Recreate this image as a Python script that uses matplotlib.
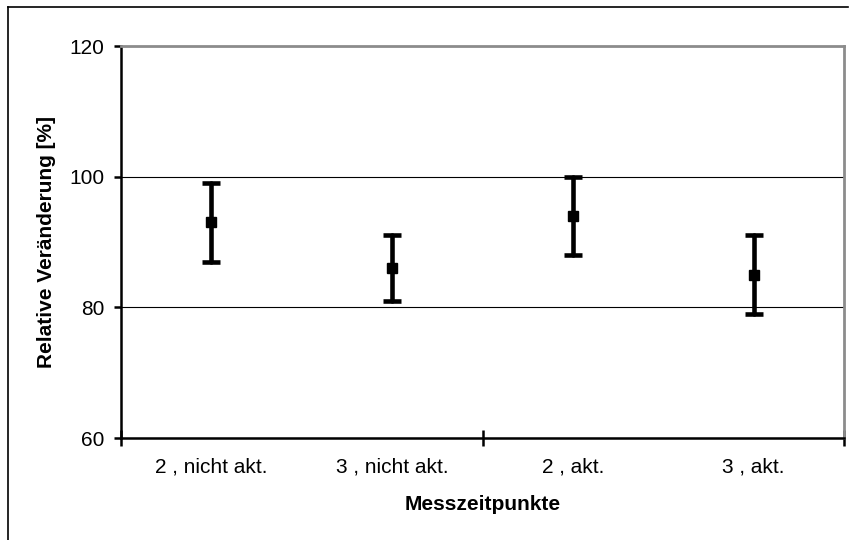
"""Relative change per measurement time with error bars."""
import matplotlib

matplotlib.use("Agg")
import matplotlib.pyplot as plt  # noqa: E402
from matplotlib.lines import Line2D  # noqa: E402

plt.rcParams["font.family"] = ["Liberation Sans", "DejaVu Sans"]

categories = ["2 , nicht akt.", "3 , nicht akt.", "2 , akt.", "3 , akt."]
means = [93, 86, 94, 85]
upper = [99, 91, 100, 91]
lower = [87, 81, 88, 79]

err_lo = [m - lo for m, lo in zip(means, lower)]
err_hi = [hi - m for m, hi in zip(means, upper)]
xpos = list(range(len(categories)))

fig = plt.figure(figsize=(8.51, 5.40), dpi=100)
ax = fig.add_axes([121 / 851, 1 - 438 / 540, 723 / 851, 392 / 540])

_, caps, bars = ax.errorbar(xpos, means, yerr=[err_lo, err_hi], fmt="s",
                            color="black", ms=6.5, ecolor="black",
                            elinewidth=3.3, capsize=6.5, capthick=3.3,
                            zorder=3)
for b in bars:
    b.set_capstyle("round")

ax.set_xlim(-0.5, 3.5)
ax.set_ylim(60, 120)
ax.set_yticks([60, 80, 100, 120])
ax.yaxis.grid(True, color="black", lw=0.8)
ax.set_axisbelow(True)

# boundary ticks every two categories, labels centred on the categories
ax.set_xticks([-0.5, 1.5, 3.5])
ax.set_xticklabels([])
ax.set_xticks(xpos, minor=True)
ax.set_xticklabels(categories, minor=True)
ax.tick_params(axis="x", which="major", direction="inout", length=11, width=1.8)
ax.tick_params(axis="x", which="minor", length=0, pad=14, labelsize=15)
ax.tick_params(axis="y", direction="out", length=5, width=1.8, pad=7,
               labelsize=15)

for side in ("left", "bottom"):
    ax.spines[side].set_color("black")
    ax.spines[side].set_linewidth(1.8)
for side in ("top", "right"):
    ax.spines[side].set_color("#8c8c8c")
    ax.spines[side].set_linewidth(2)

ax.set_xlabel("Messzeitpunkte", fontsize=15, fontweight="bold")
ax.set_ylabel("Relative Veränderung [%]", fontsize=15, fontweight="bold")
ax.xaxis.set_label_coords(0.5, (438 - 505) / 392)
ax.xaxis.label.set_verticalalignment("center")
ax.yaxis.set_label_coords((46 - 121) / 723, 0.5)
ax.yaxis.label.set_verticalalignment("center")

# chart frame: top and left edges only
fig.add_artist(Line2D([8 / 851, 8 / 851], [0, 1 - 7 / 540], color="black",
                      lw=1.2, transform=fig.transFigure))
fig.add_artist(Line2D([8 / 851, 848 / 851], [1 - 7 / 540, 1 - 7 / 540],
                      color="black", lw=1.2, transform=fig.transFigure))

fig.savefig("out.png", dpi=100)
plt.close(fig)
